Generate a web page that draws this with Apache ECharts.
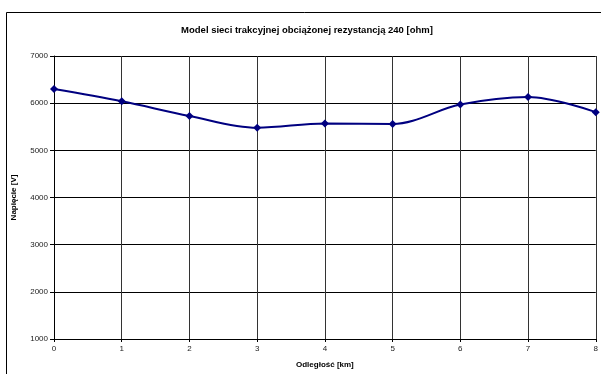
<!DOCTYPE html>
<html>
<head>
<meta charset="utf-8">
<script src="https://cdn.jsdelivr.net/npm/echarts@6/dist/echarts.min.js"></script>
<style>
html,body{margin:0;padding:0;background:#fff;}
#c{width:601px;height:374px;}
</style>
</head>
<body>
<div id="c"></div>
<script>
// Distance along the line [km] and voltage [V]
const distanceKm = [0, 1, 2, 3, 4, 5, 6, 7, 8];
const voltage = [6300, 6040, 5730, 5480, 5570, 5560, 5970, 6130, 5810];
const titleText = 'Model sieci trakcyjnej obciążonej rezystancją 240 [ohm]';
const xName = 'Odległość [km]';
const yName = 'Napięcie [V]';

const chart = echarts.init(document.getElementById('c'), null, {renderer: 'canvas'});
const font = '"Liberation Sans", Arial, sans-serif';

chart.setOption({
  animation: false,
  backgroundColor: '#fff',
  graphic: [{
    type: 'rect',
    shape: {x: 6.5, y: 12.5, width: 700, height: 500},
    style: {fill: 'none', stroke: '#000', lineWidth: 1},
    silent: true,
    z: -1
  }],
  title: {
    text: titleText,
    left: 302,
    top: 20,
    textAlign: 'center',
    textStyle: {fontFamily: font, fontSize: 9.5, fontWeight: 'bold', color: '#000'}
  },
  grid: {left: 54, right: 5, top: 56, bottom: 32},
  xAxis: {
    type: 'value',
    min: 0, max: 8, interval: 1,
    name: xName,
    nameLocation: 'middle',
    nameGap: 22,
    nameTextStyle: {fontFamily: font, fontSize: 8, fontWeight: 'bold', color: '#000'},
    axisLine: {show: true, lineStyle: {color: '#000', width: 1}},
    axisTick: {show: true, length: 3, inside: false, lineStyle: {color: '#000'}},
    axisLabel: {fontFamily: font, fontSize: 8, color: '#222', margin: 6},
    splitLine: {show: true, lineStyle: {color: '#333', width: 1}}
  },
  yAxis: {
    type: 'value',
    min: 1000, max: 7000, interval: 1000,
    name: yName,
    nameLocation: 'middle',
    nameGap: 36,
    nameTextStyle: {fontFamily: font, fontSize: 8, fontWeight: 'bold', color: '#000'},
    axisLine: {show: true, lineStyle: {color: '#000', width: 1}},
    axisTick: {show: true, length: 4, lineStyle: {color: '#000'}},
    axisLabel: {fontFamily: font, fontSize: 8, color: '#222', margin: 6, formatter: v => String(v)},
    splitLine: {show: true, lineStyle: {color: '#000', width: 1}}
  },
  series: [{
    type: 'line',
    data: distanceKm.map((d, i) => [d, voltage[i]]),
    smooth: 0.35,
    symbol: 'diamond',
    symbolSize: 8,
    lineStyle: {color: '#000080', width: 2},
    itemStyle: {color: '#000080'},
    clip: false
  }]
});
</script>
</body>
</html>
